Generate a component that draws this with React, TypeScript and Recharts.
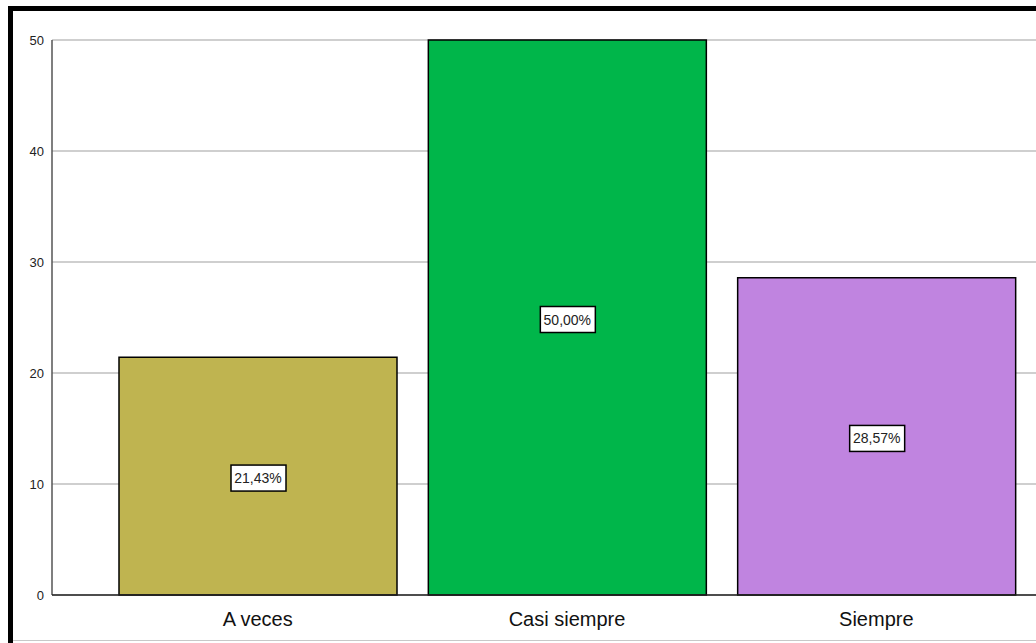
import React from 'react';
import { BarChart, Bar, XAxis, YAxis, CartesianGrid, LabelList, Cell } from 'recharts';

const categories = ['A veces', 'Casi siempre', 'Siempre'];
const percents = [21.43, 50.0, 28.57];
const barColors = ['#bfb450', '#00b64a', '#c084e0'];
const yTicks = [0, 10, 20, 30, 40, 50];

const data = categories.map((name, i) => ({ name, value: percents[i] }));

const fmt = (v: number) => v.toFixed(2).replace('.', ',') + '%';

const CategoryTick = (props: any) => {
  const { x, y, payload } = props;
  return (
    <text x={x} y={y + 23} textAnchor="middle" fontSize={20} fill="#111" fontFamily="Liberation Sans, Arial, sans-serif">
      {payload.value}
    </text>
  );
};

const ValueBox = (props: any) => {
  const { x, y, width, height, value } = props;
  const cx = x + width / 2;
  const cy = y + height / 2 + 2;
  return (
    <g>
      <rect x={cx - 27} y={cy - 13} width={55} height={26} fill="#fff" stroke="#000" strokeWidth={1.5} />
      <text x={cx} y={cy + 5} textAnchor="middle" fontSize={14} fill="#222" fontFamily="Liberation Sans, Arial, sans-serif">
        {fmt(value)}
      </text>
    </g>
  );
};

export default function App() {
  return (
    <div style={{ position: 'absolute', left: 0, top: 0, width: 1036, height: 643, background: '#fff', overflow: 'hidden' }}>
      <BarChart
        width={1036}
        height={643}
        data={data}
        margin={{ top: 40, right: 0, bottom: 8, left: 0 }}
        barSize={278}
      >
        <CartesianGrid vertical={false} stroke="#a0a0a0" strokeWidth={1.2} />
        <YAxis
          domain={[0, 50]}
          ticks={yTicks}
          width={52}
          tickLine={false}
          axisLine={{ stroke: '#555', strokeWidth: 1.5 }}
          tickMargin={2}
          tick={{ fontSize: 13, fill: '#222', fontFamily: 'Liberation Sans, Arial, sans-serif' }}
        />
        <XAxis
          dataKey="name"
          height={40}
          padding={{ left: 51, right: 5 }}
          tickLine={false}
          axisLine={{ stroke: '#222', strokeWidth: 1.5 }}
          tick={<CategoryTick />}
          interval={0}
        />
        <Bar dataKey="value" stroke="#000" strokeWidth={1.5} isAnimationActive={false}>
          {data.map((d, i) => (
            <Cell key={d.name} fill={barColors[i]} />
          ))}
          <LabelList dataKey="value" content={<ValueBox />} />
        </Bar>
      </BarChart>
      <div style={{ position: 'absolute', left: 8, top: 6, width: 5, height: 637, background: '#000' }} />
      <div style={{ position: 'absolute', left: 8, top: 6, width: 1028, height: 5, background: '#000' }} />
      <div style={{ position: 'absolute', left: 13, top: 640, width: 1023, height: 1, background: '#c8c8c8' }} />
    </div>
  );
}
